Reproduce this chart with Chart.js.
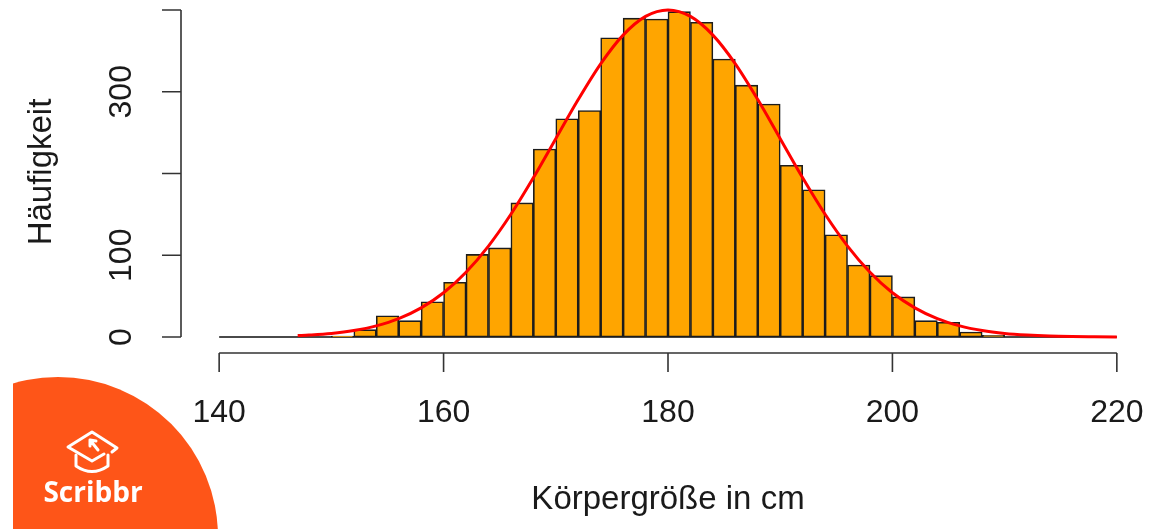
<!DOCTYPE html>
<html>
<head>
<meta charset="utf-8">
<script src="https://cdn.jsdelivr.net/npm/chart.js@4.4.1/dist/chart.umd.min.js"></script>
<style>
  html, body { margin: 0; padding: 0; background: #fff; }
  #wrap { width: 1161px; height: 529px; position: relative; }
</style>
</head>
<body>
<div id="wrap"><canvas id="hist"></canvas></div>
<script>
// histogram bins (left edge, width 2 cm) and counts
const binLeft = [150, 152, 154, 156, 158, 160, 162, 164, 166, 168, 170, 172, 174, 176, 178,
                 180, 182, 184, 186, 188, 190, 192, 194, 196, 198, 200, 202, 204, 206, 208];
const counts  = [1, 9, 26, 20, 43, 67, 101, 109, 164, 230, 267, 277, 366, 390, 389,
                 398, 385, 340, 308, 285, 210, 180, 125, 88, 75, 49, 20, 18, 6, 2];
const binWidth = 2;
const histRange = [140, 220];

// red fitted curve
const curveX = [147, 148, 150, 152, 154, 156, 158, 160, 162, 164, 166, 168, 170, 172, 174, 176, 178,
                180, 182, 184, 186, 188, 190, 192, 194, 196, 198, 200, 202, 204, 206, 208, 210,
                212, 214, 216, 218, 220];
const curveY = [1.7, 2.4, 4.4, 7.9, 13.6, 22.4, 35.6, 54.1, 79.2, 111.2, 150.1, 194.7, 242.6, 290.4, 334.1, 369.2, 392.1,
                400, 392.1, 369.2, 334.1, 290.4, 242.6, 194.7, 150.1, 111.2, 79.2, 54.1, 35.6, 22.4, 13.6, 7.9, 4.4,
                2.4, 1.2, 0.6, 0.3, 0.1];

const xTicks = [140, 160, 180, 200, 220];
const yTicks = [0, 100, 200, 300, 400];
const yTickLabels = ['0', '100', '', '300', ''];

const xTitle = 'Körpergröße in cm';
const yTitle = 'Häufigkeit';

const FONT = '"Liberation Sans", Arial, sans-serif';

const rAxes = {
  id: 'rAxes',
  afterDraw(chart) {
    const ctx = chart.ctx;
    const xs = chart.scales.x, ys = chart.scales.y;
    const area = chart.chartArea;
    ctx.save();
    ctx.strokeStyle = '#333';
    ctx.lineWidth = 1.6;
    ctx.fillStyle = '#1a1a1a';

    // y axis
    const ax = area.left;
    ctx.beginPath();
    ctx.moveTo(ax, ys.getPixelForValue(yTicks[0]));
    ctx.lineTo(ax, ys.getPixelForValue(yTicks[yTicks.length - 1]));
    yTicks.forEach(v => {
      const py = ys.getPixelForValue(v);
      ctx.moveTo(ax, py);
      ctx.lineTo(ax - 19, py);
    });
    ctx.stroke();
    ctx.font = '32px ' + FONT;
    ctx.textAlign = 'center';
    ctx.textBaseline = 'middle';
    yTicks.forEach((v, i) => {
      if (!yTickLabels[i]) return;
      ctx.save();
      ctx.translate(121, ys.getPixelForValue(v));
      ctx.rotate(-Math.PI / 2);
      ctx.fillText(yTickLabels[i], 0, 1);
      ctx.restore();
    });

    // x axis
    const ay = area.bottom + 1;
    ctx.beginPath();
    ctx.moveTo(xs.getPixelForValue(xTicks[0]), ay);
    ctx.lineTo(xs.getPixelForValue(xTicks[xTicks.length - 1]), ay);
    xTicks.forEach(v => {
      const px = xs.getPixelForValue(v);
      ctx.moveTo(px, ay);
      ctx.lineTo(px, ay + 19);
    });
    ctx.stroke();
    xTicks.forEach(v => {
      ctx.fillText(String(v), xs.getPixelForValue(v), 413);
    });

    // titles
    ctx.font = '33px ' + FONT;
    ctx.textBaseline = 'alphabetic';
    const midX = (xs.getPixelForValue(histRange[0]) + xs.getPixelForValue(histRange[1])) / 2;
    ctx.fillText(xTitle, midX, 509);
    ctx.save();
    ctx.translate(51, 172);
    ctx.rotate(-Math.PI / 2);
    ctx.fillText(yTitle, 0, 0);
    ctx.restore();

    // Scribbr badge
    ctx.save();
    ctx.beginPath();
    ctx.rect(13, 300, 400, 229);
    ctx.clip();
    ctx.fillStyle = '#FE5518';
    ctx.beginPath();
    ctx.arc(58, 537, 160, 0, Math.PI * 2);
    ctx.fill();
    ctx.restore();

    ctx.strokeStyle = '#fff';
    ctx.lineWidth = 3;
    ctx.lineJoin = 'round';
    ctx.lineCap = 'round';
    // mortarboard
    ctx.beginPath();
    ctx.moveTo(112, 452);
    ctx.lineTo(117, 448);
    ctx.lineTo(92, 432);
    ctx.lineTo(68, 447);
    ctx.lineTo(92, 461);
    ctx.lineTo(104, 454);
    ctx.stroke();
    // cap bowl
    ctx.beginPath();
    ctx.moveTo(76, 455);
    ctx.lineTo(76, 466);
    ctx.quadraticCurveTo(92, 477, 108, 466);
    ctx.lineTo(108, 455);
    ctx.stroke();
    // arrow
    ctx.beginPath();
    ctx.moveTo(98, 450);
    ctx.lineTo(90, 440);
    ctx.moveTo(90, 440);
    ctx.lineTo(90, 446);
    ctx.moveTo(90, 440);
    ctx.lineTo(96, 441);
    ctx.stroke();

    ctx.fillStyle = '#fff';
    ctx.font = 'bold 28px "Open Sans", Lato, sans-serif';
    ctx.textAlign = 'center';
    ctx.fillText('Scribbr', 93, 502);
    ctx.restore();
  }
};

const chart = new Chart(document.getElementById('hist'), {
  data: {
    datasets: [{
      type: 'line',
      label: 'curve',
      data: curveX.map((x, i) => ({ x: x, y: curveY[i] })),
      borderColor: '#FF0000',
      borderWidth: 3,
      pointRadius: 0,
      cubicInterpolationMode: 'monotone',
      fill: false,
      order: 0
    }, {
      type: 'bar',
      label: 'counts',
      data: binLeft.map((b, i) => ({ x: b + binWidth / 2, y: counts[i] })),
      backgroundColor: '#FFA500',
      borderColor: '#1c1c1c',
      borderWidth: 1.6,
      borderSkipped: false,
      barPercentage: 1,
      categoryPercentage: 1,
      order: 1
    }, {
      type: 'line',
      label: 'base',
      data: histRange.map(x => ({ x: x, y: 0 })),
      borderColor: '#4a4a4a',
      borderWidth: 2,
      pointRadius: 0,
      fill: false,
      order: 2
    }]
  },
  options: {
    responsive: true,
    maintainAspectRatio: false,
    animation: false,
    layout: {
      padding: { left: 181, right: 6, top: 0, bottom: 177 }
    },
    scales: {
      x: { type: 'linear', min: 136.6, max: 223.4, offset: false, display: false },
      y: { type: 'linear', min: -18.35, max: 412.2, display: false }
    },
    plugins: {
      legend: { display: false },
      tooltip: { enabled: false }
    }
  },
  plugins: [rAxes]
});
</script>
</body>
</html>
